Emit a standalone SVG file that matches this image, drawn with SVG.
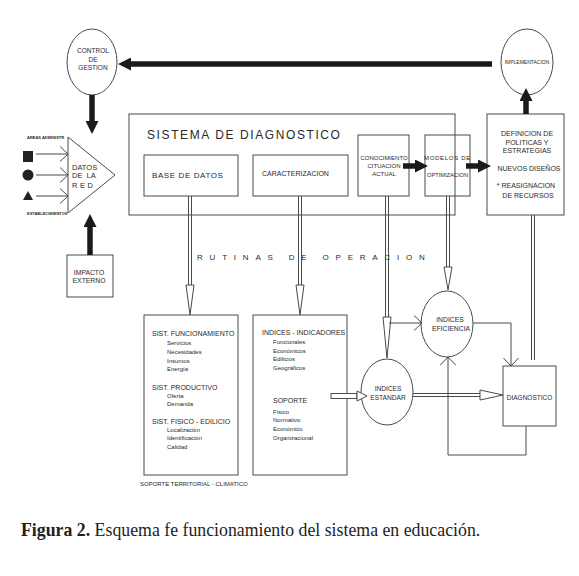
<svg xmlns="http://www.w3.org/2000/svg" width="579" height="576" viewBox="0 0 579 576">
<style>
.t{font-family:"Liberation Sans",Arial,sans-serif;fill:#2a2a2a}
.m{text-anchor:middle}
.b{fill:none;stroke:#4a4a4a;stroke-width:1}
.k{fill:none;stroke:#1a1a1a;stroke-width:5.5}
.h{fill:#fff;stroke:#4a4a4a;stroke-width:1}
.cap{font-family:"Liberation Serif","Times New Roman",serif;font-size:17.8px;fill:#1e1e1e}
</style>
<defs>
<marker id="tk" viewBox="0 0 13 13" refX="0" refY="6.5" markerWidth="13" markerHeight="13" markerUnits="userSpaceOnUse" orient="auto"><path d="M0,0 L13,6.5 L0,13 z" fill="#1a1a1a"/></marker>
<marker id="v" viewBox="0 0 9 16" refX="8.5" refY="8" markerWidth="9" markerHeight="16" markerUnits="userSpaceOnUse" orient="auto"><path d="M0,0 L8.5,8 L0,16" fill="none" stroke="#4a4a4a" stroke-width="1"/></marker>
</defs>
<rect width="579" height="576" fill="#fff"/>

<g id="control">
<ellipse class="b" cx="92" cy="62" rx="25" ry="33"/>
<text class="t m" font-size="6.5" x="93" y="53">CONTROL</text>
<text class="t m" font-size="6.5" x="93" y="61.5">DE</text>
<text class="t m" font-size="6.5" x="93" y="70">GESTION</text>
</g>

<g id="implementacion">
<ellipse class="b" cx="527" cy="62" rx="26" ry="33"/>
<text class="t m" font-size="5" x="527" y="64">IMPLEMENTACION</text>
</g>

<g id="datos-red">
<polygon class="b" points="68,137 115,175 68,213"/>
<text class="t" font-size="7.5" x="72" y="170">DATOS</text>
<text class="t" font-size="7.5" x="72" y="178" xml:space="preserve">DE  LA</text>
<text class="t" font-size="7.5" x="72" y="188" letter-spacing="2.5">RED</text>
<text class="t" font-size="4" font-weight="bold" x="27" y="139">AREAS ADMINISTR</text>
<text class="t" font-size="4" font-weight="bold" x="27" y="215">ESTABLECIMIENTOS</text>
<rect x="23" y="151" width="10" height="11" fill="#222"/>
<circle cx="28" cy="175" r="5.5" fill="#222"/>
<polygon points="23,200 33,200 28,191" fill="#222"/>
</g>

<g id="impacto">
<rect class="b" x="67" y="255" width="46" height="42"/>
<text class="t m" font-size="6.8" x="89" y="275">IMPACTO</text>
<text class="t m" font-size="6.8" x="89" y="283">EXTERNO</text>
</g>

<g id="sistema">
<rect class="b" x="129" y="114" width="326" height="101"/>
<text class="t" font-size="12" x="147" y="139" letter-spacing="1.6">SISTEMA DE DIAGNOSTICO</text>
</g>

<g id="base-datos">
<rect class="b" x="144" y="155" width="94" height="41"/>
<text class="t" font-size="8" x="152" y="178" letter-spacing="0.6">BASE DE DATOS</text>
</g>

<g id="caracterizacion">
<rect class="b" x="253" y="155" width="95" height="41"/>
<text class="t" font-size="7" x="262" y="176">CARACTERIZACION</text>
</g>

<g id="conocimiento">
<rect class="b" x="358" y="135" width="51" height="61"/>
<text class="t m" font-size="6" x="384" y="159.5">CONOCIMIENTO</text>
<text class="t m" font-size="6" x="384" y="167.5">CITUACION</text>
<text class="t m" font-size="6" x="384" y="175.5">ACTUAL</text>
</g>

<g id="modelos">
<rect class="b" x="425" y="135" width="45" height="61"/>
<text class="t m" font-size="6" x="447.5" y="159.5" letter-spacing="0.7">MODELOS DE</text>
<text class="t m" font-size="5.7" x="447.5" y="176.5">OPTIMIZACION</text>
</g>

<g id="definicion">
<rect class="b" x="487" y="114" width="77" height="101"/>
<text class="t m" font-size="7" x="527" y="135.5">DEFINICION DE</text>
<text class="t m" font-size="7" x="527" y="144.5">POLITICAS Y</text>
<text class="t m" font-size="7" x="527" y="152.5">ESTRATEGIAS</text>
<text class="t m" font-size="7" x="529" y="170.5">NUEVOS DISEÑOS</text>
<text class="t m" font-size="7" x="526" y="187.5">* REASIGNACION</text>
<text class="t m" font-size="7" x="528" y="197.5">DE RECURSOS</text>
</g>

<text class="t" font-size="8" x="197" y="259.5" letter-spacing="6.8">RUTINAS DE OPERACION</text>

<g id="sist-funcionamiento">
<rect class="b" x="144" y="315" width="94" height="160"/>
<text class="t" font-size="7" x="152" y="336">SIST. FUNCIONAMIENTO</text>
<text class="t" font-size="6" x="167" y="345">Servicios</text>
<text class="t" font-size="6" x="167" y="354">Necesidades</text>
<text class="t" font-size="6" x="167" y="362.5">Insumos</text>
<text class="t" font-size="6" x="167" y="371">Energía</text>
<text class="t" font-size="7" x="152" y="390">SIST. PRODUCTIVO</text>
<text class="t" font-size="6" x="167" y="397.5">Oferta</text>
<text class="t" font-size="6" x="167" y="406">Demanda</text>
<text class="t" font-size="7" x="152" y="424">SIST. FISICO - EDILICIO</text>
<text class="t" font-size="6" x="167" y="431.5">Localización</text>
<text class="t" font-size="6" x="167" y="440">Identificación</text>
<text class="t" font-size="6" x="167" y="449">Calidad</text>
</g>

<g id="indices-indicadores">
<rect class="b" x="253" y="315" width="94" height="160"/>
<text class="t" font-size="7" x="262" y="335">INDICES - INDICADORES</text>
<text class="t" font-size="6" x="273" y="344">Funcionales</text>
<text class="t" font-size="6" x="273" y="352.5">Económicos</text>
<text class="t" font-size="6" x="273" y="361">Edilicios</text>
<text class="t" font-size="6" x="273" y="369.5">Geográficos</text>
<text class="t" font-size="7" x="273" y="403">SOPORTE</text>
<text class="t" font-size="6" x="273" y="413.5">Físico</text>
<text class="t" font-size="6" x="273" y="422">Normativo</text>
<text class="t" font-size="6" x="273" y="430.5">Económico</text>
<text class="t" font-size="6" x="273" y="439.5">Organizacional</text>
</g>

<text class="t" font-size="6" x="140" y="486">SOPORTE TERRITORIAL - CLIMATICO</text>

<g id="indices-estandar">
<ellipse class="b" cx="387" cy="392" rx="26" ry="33"/>
<text class="t m" font-size="6.6" x="388" y="390.5">INDICES</text>
<text class="t m" font-size="6.6" x="388" y="399.5">ESTANDAR</text>
</g>

<g id="indices-eficiencia">
<ellipse class="b" cx="447" cy="324" rx="26" ry="33"/>
<text class="t m" font-size="6.8" x="450" y="321.5">INDICES</text>
<text class="t m" font-size="6.8" x="451" y="330.5">EFICIENCIA</text>
</g>

<g id="diagnostico">
<rect class="b" x="503" y="366" width="53" height="60"/>
<text class="t m" font-size="6.5" x="529.5" y="400">DIAGNOSTICO</text>
</g>

<g id="connectors">
<path class="k" d="M492,64 H131" marker-end="url(#tk)"/>
<path class="k" d="M92,95 V121" marker-end="url(#tk)"/>
<path class="k" d="M90,255 V227" marker-end="url(#tk)"/>
<path class="k" d="M526,114 V101" marker-end="url(#tk)"/>
<path class="k" d="M403,166 H415" marker-end="url(#tk)"/>
<path class="k" d="M466,166 H478" marker-end="url(#tk)"/>

<path class="b" d="M36,154 H68" marker-end="url(#v)"/>
<path class="b" d="M36,175 H68" marker-end="url(#v)"/>
<path class="b" d="M36,196 H68" marker-end="url(#v)"/>

<path class="b" d="M188.5,196 V285 M191.5,196 V285"/>
<polygon class="h" points="186,285 194,285 190,315"/>
<path class="b" d="M298.5,196 V285 M301.5,196 V285"/>
<polygon class="h" points="296,285 304,285 300,315"/>
<path class="b" d="M385.5,196 V317 M388.5,196 V317"/>
<polygon class="h" points="383,317 391,317 387,358"/>
<path class="b" d="M446.5,196 V267 M449.5,196 V267"/>
<polygon class="h" points="444,267 452,267 448,290"/>
<path class="b" d="M531.5,215 V360 M534.5,215 V360"/>

<path class="b" d="M413,393.5 H480 M413,396.5 H480"/>
<polygon class="h" points="480,390 480,400 503,395"/>
<rect class="h" x="331" y="393.5" width="26" height="5"/>
<polygon class="h" points="357,391 357,401 367,396"/>

<path class="b" d="M389,323 H422" marker-end="url(#v)"/>
<path class="b" d="M473,323 H511 V366" marker-end="url(#v)"/>
<path class="b" d="M526,426 V455 H448 V357" marker-end="url(#v)"/>
</g>

<text class="cap" x="21" y="536"><tspan font-weight="bold">Figura 2.</tspan> Esquema fe funcionamiento del sistema en educación.</text>
</svg>
